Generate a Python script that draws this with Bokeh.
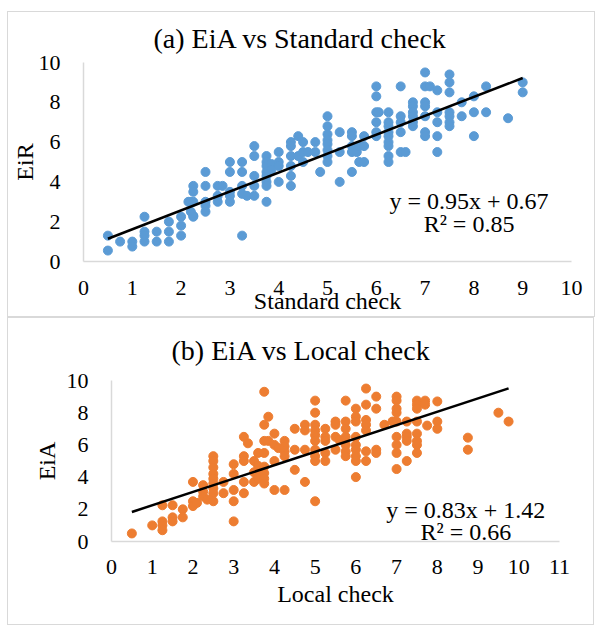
from bokeh.plotting import figure
from bokeh.models import FixedTicker, Label, Range1d
from bokeh.embed import file_html
from bokeh.resources import INLINE

# ---------------- data ----------------
a_x = [0.5,0.5,0.75,1.0,1.0,
       1.25,1.25,1.25,1.25,1.5,1.5,1.75,1.75,1.75,2.0,2.0,2.0,
       2.15,2.2,2.2,2.25,2.25,2.25,2.25,2.25,
       2.5,2.5,2.5,2.5,2.5,2.75,2.85,2.75,2.75,
       3.0,3.0,3.0,3.0,3.0,3.25,3.25,3.25,3.25,3.25,3.35,
       3.5,3.5,3.5,3.5,3.5,
       3.75,3.75,3.75,3.75,3.75,3.75,3.75,3.75,3.85,3.85,
       4.0,4.0,4.0,4.0,4.25,4.25,4.25,4.25,4.25,4.25,4.4,4.4,
       4.5,4.5,4.5,4.6,4.75,4.75,4.85,
       5.0,5.0,5.0,5.0,5.0,5.0,5.0,5.0,5.25,5.25,5.25,
       5.5,5.5,5.5,5.5,5.5,5.6,5.65,5.65,5.75,5.75,5.75,
       6.0,6.0,6.0,6.0,6.0,6.0,6.05,
       6.25,6.25,6.25,6.25,6.25,6.25,6.25,6.25,6.25,
       6.5,6.5,6.5,6.5,6.5,6.6,
       6.75,6.75,6.75,6.75,6.75,6.75,
       7.0,7.0,7.0,7.0,7.0,7.0,7.0,
       7.1,7.25,7.25,7.25,7.25,7.25,
       7.5,7.5,7.5,7.5,7.5,7.5,7.5,7.75,7.75,
       8.0,8.0,8.0,8.25,8.25,8.7,9.0,9.0]
a_y = [1.3,0.55,1.0,1.0,0.75,
       2.25,1.5,1.3,1.0,1.5,1.0,2.0,1.5,1.0,2.25,1.8,1.3,
       3.0,3.0,2.5,2.3,3.8,3.5,3.0,2.25,
       4.5,3.8,3.0,2.8,2.5,3.8,3.8,3.3,3.0,
       5.0,4.5,3.5,3.3,3.0,5.0,4.5,3.8,3.4,1.3,3.3,
       5.8,5.3,4.3,3.8,3.3,
       5.3,5.0,4.8,4.5,4.3,4.0,3.8,3.0,4.9,4.6,
       5.5,5.0,4.8,4.0,6.0,5.8,5.3,4.8,4.3,3.8,6.3,5.3,
       6.0,5.5,5.0,5.5,5.5,6.0,4.5,
       7.3,6.8,6.4,6.1,5.9,5.6,5.3,5.0,6.5,5.5,4.0,
       6.5,6.3,5.8,5.5,4.5,5.5,5.8,5.0,6.3,5.8,5.0,
       8.8,8.3,7.5,7.0,6.5,6.3,7.5,
       7.5,7.0,6.8,6.5,6.3,6.0,5.8,5.3,5.0,
       8.8,7.3,7.0,6.5,5.5,5.5,
       8.0,7.8,7.5,7.3,7.0,6.8,
       9.5,8.8,8.0,7.8,7.3,6.5,6.3,
       8.8,8.6,7.5,7.0,6.3,5.5,
       9.4,9.0,8.5,7.5,7.3,7.0,6.8,8.0,7.3,
       8.3,7.5,6.3,8.8,7.5,7.2,9.0,8.5]

b_x = [0.5,1.0,1.25,1.25,1.25,1.25,
       1.5,1.5,1.5,1.75,1.75,
       2.0,2.0,2.0,2.1,2.25,2.25,2.25,2.35,
       2.5,2.5,2.5,2.5,2.5,2.5,2.5,2.5,2.5,
       2.75,2.75,
       3.0,3.0,3.0,3.0,3.0,
       3.25,3.25,3.25,3.25,3.25,
       3.35,3.5,3.5,3.5,3.6,3.6,3.6,3.6,
       3.75,3.75,3.75,3.75,3.75,3.75,3.75,3.75,3.85,3.85,
       4.0,4.0,4.0,4.0,4.1,
       4.25,4.25,4.25,4.25,4.25,
       4.5,4.5,4.5,4.75,4.75,4.75,4.75,
       5.0,5.0,5.0,5.0,5.0,5.0,5.0,5.0,5.0,5.0,
       5.25,5.25,5.25,5.25,5.25,
       5.5,5.5,5.5,5.5,5.6,
       5.75,5.75,5.75,5.75,5.75,5.75,5.75,
       6.0,6.0,6.0,6.0,6.0,6.0,6.0,6.0,6.0,
       6.25,6.25,6.25,6.25,6.25,6.25,6.25,
       6.5,6.5,6.5,6.5,6.7,6.9,
       7.0,7.0,7.0,7.0,7.0,7.0,7.0,7.0,7.0,
       7.25,7.25,7.25,7.25,7.25,
       7.5,7.5,7.5,7.5,7.5,7.5,7.5,7.5,
       7.7,7.7,7.75,8.0,8.0,8.0,8.75,8.75,9.5,9.75]
b_y = [0.5,1.0,2.25,1.25,1.0,0.7,
       2.25,1.5,1.25,2.0,1.5,
       3.7,2.5,2.2,2.4,3.5,3.1,2.8,2.6,
       5.3,5.0,4.6,4.2,3.9,3.6,3.3,3.0,2.5,
       3.7,3.0,
       4.8,4.2,3.2,2.5,1.25,
       6.5,5.3,5.0,3.7,3.0,
       6.1,5.0,4.3,3.7,5.5,4.7,4.1,3.9,
       9.3,7.25,6.25,5.5,4.65,4.25,3.9,3.6,7.75,6.25,
       6.7,6.0,5.0,3.2,5.8,
       6.25,5.9,5.6,5.3,3.2,
       7.0,5.7,4.45,7.25,6.9,5.7,3.7,
       8.75,8.0,7.25,6.9,6.6,6.25,5.7,5.3,5.0,2.5,
       7.0,6.5,6.25,5.5,5.0,
       7.45,7.25,6.5,5.7,6.3,
       8.75,7.45,7.0,6.5,6.0,5.6,5.3,
       8.25,7.75,7.45,6.5,6.0,5.7,5.3,5.0,4.0,
       9.5,8.5,7.55,7.25,6.9,5.6,5.0,
       9.0,8.25,5.7,5.5,7.25,7.45,
       9.0,8.75,8.25,8.0,7.45,6.5,6.0,5.5,4.5,
       7.45,6.7,6.5,6.25,5.0,
       8.75,8.5,8.25,7.45,6.7,6.25,6.0,5.5,
       8.75,8.5,7.2,8.7,7.45,7.0,6.45,5.7,8.0,7.45]

a_slope, a_intercept, a_r2 = 0.95, 0.67, 0.85
b_slope, b_intercept, b_r2 = 0.83, 1.42, 0.66

a_title = "(a) EiA vs Standard check"
b_title = "(b) EiA vs Local check"
a_xlabel, a_ylabel = "Standard check", "EiR"
b_xlabel, b_ylabel = "Local check", "EiA"
a_xticks = list(range(0, 11))
b_xticks = list(range(0, 12))
y_ticks = [0, 2, 4, 6, 8, 10]

FONT = "Liberation Serif"
AXIS_GREY = "#d9d9d9"


def make_panel(xs, ys, color, slope, intercept, r2, title, xlabel, ylabel,
               xticks, xmax, width, height, margin, borders, title_standoff,
               title_offset, xtick_standoff, ylab_standoff, xlab_standoff,
               eq_pos):
    p = figure(width=width, height=height, output_backend="svg",
               toolbar_location=None, x_range=Range1d(0, xmax),
               y_range=Range1d(0, 10),
               min_border_left=borders[0], min_border_right=borders[1],
               min_border_top=borders[2], min_border_bottom=borders[3])
    p.margin = margin
    p.styles = {"outline": "1.5px solid #d9d9d9"}
    p.title.text = title
    p.title.text_font = FONT
    p.title.text_font_size = "28px"
    p.title.text_font_style = "normal"
    p.title.text_color = "#000000"
    p.title.align = "left"
    p.title.standoff = title_standoff
    p.title.offset = title_offset
    p.outline_line_color = None
    p.grid.visible = False
    p.background_fill_color = "white"
    p.border_fill_color = "white"

    for ax in (p.xaxis[0], p.yaxis[0]):
        ax.axis_line_color = AXIS_GREY
        ax.axis_line_width = 1.5
        ax.major_tick_line_color = None
        ax.minor_tick_line_color = None
        ax.major_label_text_font = FONT
        ax.major_label_text_font_size = "22px"
        ax.major_label_text_color = "#000000"
        ax.axis_label_text_font = FONT
        ax.axis_label_text_font_size = "24px"
        ax.axis_label_text_font_style = "normal"
        ax.axis_label_text_color = "#000000"
    p.xaxis.ticker = FixedTicker(ticks=xticks)
    p.yaxis.ticker = FixedTicker(ticks=y_ticks)
    p.yaxis.axis_label = ylabel
    p.xaxis.axis_label = xlabel
    p.yaxis.major_label_standoff = 17
    p.xaxis.major_label_standoff = xtick_standoff
    p.yaxis.axis_label_standoff = ylab_standoff
    p.xaxis.axis_label_standoff = xlab_standoff

    p.scatter(xs, ys, size=9, color=color, alpha=1.0, line_color=color)

    x0, x1 = min(xs), max(xs)
    p.line([x0, x1], [slope * x0 + intercept, slope * x1 + intercept],
           line_color="black", line_width=2.5)

    eq1 = "y = %.2fx + %.2f" % (slope, intercept)
    eq2 = "R\u00b2 = %.2f" % r2
    p.add_layout(Label(x=eq_pos[0], y=eq_pos[1], text=eq1, text_align="center",
                       text_baseline="middle", text_font=FONT,
                       text_font_size="24px", text_color="#000000"))
    p.add_layout(Label(x=eq_pos[0], y=eq_pos[2], text=eq2, text_align="center",
                       text_baseline="middle", text_font=FONT,
                       text_font_size="24px", text_color="#000000"))
    return p


pa = make_panel(a_x, a_y, "#5B9BD5", a_slope, a_intercept, a_r2, a_title,
                a_xlabel, a_ylabel, a_xticks, 10, 586, 304, (12, 5, 2, 8),
                (74, 23, 50, 53), 17, 70, 13, -2, -10, (7.9, 3.03, 1.9))
pb = make_panel(b_x, b_y, "#ED7D31", b_slope, b_intercept, b_r2, b_title,
                b_xlabel, b_ylabel, b_xticks, 11, 585, 306, (1, 6, 4, 8),
                (103, 34, 62, 83), 29, 60, 12, 4, 4, (8.7, 1.97, 0.6))

open("out.html", "w").write(file_html([pa, pb], INLINE))
